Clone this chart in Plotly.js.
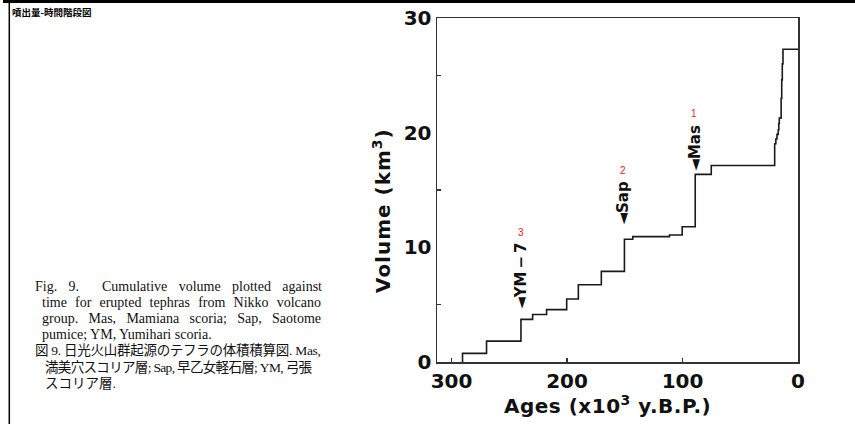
<!DOCTYPE html>
<html>
<head>
<meta charset="utf-8">
<script src="https://cdn.plot.ly/plotly-3.0.1.min.js"></script>
<style>
  html, body { margin: 0; padding: 0; background: #fff; }
  #chart { width: 855px; height: 424px; }
</style>
</head>
<body>
<div id="chart"></div>
<script>
// ---- data ----
const eruptionAge = [290.5, 269.7, 239.9, 229.8, 217.7, 200.3, 190.2, 170.3, 150.3, 143.1, 111.3, 100.3, 89.0, 75.1,
                     20.2, 19.2, 18.2, 17.1, 16.6, 16.2, 15.0, 14.6, 14.1, 13.6, 13.0];
const cumVolume   = [0.75, 1.82, 3.72, 4.14, 4.57, 5.5, 6.74, 7.9, 10.7, 10.93, 11.07, 11.8, 16.36, 17.14,
                     19.03, 19.45, 19.85, 20.25, 20.8, 21.27, 21.3, 23.0, 24.6, 26.0, 27.27];
const presentAge = 0;

const xTickVals = [300, 200, 100, 0];
const xTickText = ['300', '200', '100', '0'];
const yTickVals = [0, 10, 20, 30];
const yTickText = ['0', '10', '20', '30'];

const markerText = ['YM\u2009\u2212\u20097', 'Sap', 'Mas'];
const markerAge  = [240, 151.6, 90];
const markerNum  = ['3', '2', '1'];

const pageTitle = '噴出量-時間階段図';
const xTitle = 'Ages (x10<sup>3</sup> y.B.P.)';
const yTitle = 'Volume (km<sup>3</sup>)';
const captionLines = [
  'Fig. 9.\u00a0 Cumulative volume plotted against',
  'time for erupted tephras from Nikko volcano',
  'group. Mas, Mamiana scoria; Sap, Saotome',
  'pumice; YM, Yumihari scoria.',
  '図 9. 日光火山群起源のテフラの体積積算図. Mas,',
  '満美穴スコリア層; Sap, 早乙女軽石層; YM, 弓張',
  'スコリア層.'
];

// ---- layout helpers (pixel -> paper) ----
const W = 855, H = 424;
const M = {l: 437, r: 57, t: 18, b: 62};
const PW = W - M.l - M.r, PH = H - M.t - M.b;
const px = v => (v - M.l) / PW;
const py = v => (H - M.b - v) / PH;

const cnv = document.createElement('canvas').getContext('2d');
function measure(text, font) { cnv.font = font; return cnv.measureText(text).width; }

// step trace built from the eruption table
const xs = [eruptionAge[0]].concat(eruptionAge, [presentAge]);
const ys = [0].concat(cumVolume, [cumVolume[cumVolume.length - 1]]);

const trace = {
  x: xs, y: ys, type: 'scatter', mode: 'lines',
  line: {shape: 'hv', color: '#1a1a1a', width: 1.6},
  hoverinfo: 'skip', showlegend: false
};

const sansBold = {family: 'DejaVu Sans', size: 20, color: '#111', weight: 'bold'};

const annotations = [];
// marker labels (rotated, with down-pointing wedge)
const markerCenterVol = [7.5, 13.9, 18.7];
const numVol = [11.3, 16.7, 21.7];
for (let i = 0; i < markerText.length; i++) {
  annotations.push({
    xref: 'x', yref: 'y', x: markerAge[i], y: markerCenterVol[i],
    text: '\u25C4' + markerText[i], textangle: -90, showarrow: false,
    xanchor: 'center', yanchor: 'middle',
    font: {family: 'DejaVu Sans', size: 15, color: '#111', weight: 'bold'}
  });
  annotations.push({
    xref: 'x', yref: 'y', x: markerAge[i], y: numVol[i],
    text: markerNum[i], showarrow: false, xanchor: 'center', yanchor: 'middle',
    font: {family: 'Liberation Sans', size: 10, color: '#e52420'}
  });
}
// axis titles as annotations (placed like the reference)
annotations.push({
  xref: 'paper', yref: 'paper', x: px(607), y: py(405), xanchor: 'center', yanchor: 'middle',
  text: '<span style="letter-spacing:0.5px">' + xTitle + '</span>', showarrow: false, font: sansBold
});
annotations.push({
  xref: 'paper', yref: 'paper', x: px(382), y: py(211), xanchor: 'center', yanchor: 'middle',
  textangle: -90,
  text: '<span style="letter-spacing:1px">' + yTitle + '</span>', showarrow: false, font: sansBold
});
// page title
annotations.push({
  xref: 'paper', yref: 'paper', x: px(10), y: py(12), xanchor: 'left', yanchor: 'middle',
  text: pageTitle, showarrow: false,
  font: {family: 'Noto Sans CJK JP', size: 9.5, color: '#000', weight: 'bold'}
});
// caption (justified to the reference line widths)
const capX = [33, 40, 40, 40, 33, 43, 43];
const capY = [286, 302, 318.3, 334.6, 350.9, 367.2, 383.5];
const capW = [287, 279, 279, 0, 286, 267, 0];
const capSize = [14, 14, 14, 14, 13.5, 13.5, 13.5];
for (let i = 0; i < captionLines.length; i++) {
  const fam = "'Liberation Serif', 'Noto Sans CJK JP'";
  const natural = measure(captionLines[i], capSize[i] + 'px ' + fam);
  let txt = captionLines[i];
  if (capW[i] > 0) {
    const isCJK = i >= 4;
    if (isCJK) {
      const n = [...captionLines[i]].length - 1;
      const ls = (capW[i] - natural) / n;
      txt = '<span style="letter-spacing:' + ls.toFixed(2) + 'px">' + txt + '</span>';
    } else {
      const n = (captionLines[i].match(/[ \u00a0]/g) || []).length;
      const ws = (capW[i] - natural) / n;
      txt = '<span style="word-spacing:' + ws.toFixed(2) + 'px">' + txt + '</span>';
    }
  }
  annotations.push({
    xref: 'paper', yref: 'paper', x: px(capX[i]), y: py(capY[i]), xanchor: 'left', yanchor: 'middle',
    text: txt, showarrow: false,
    font: {family: 'Liberation Serif, Noto Sans CJK JP', size: capSize[i], color: '#111'}
  });
}

const shapes = [
  {type: 'line', xref: 'paper', yref: 'paper', x0: px(3), x1: px(855), y0: py(1.5), y1: py(1.5),
   line: {color: '#000', width: 3}},
  {type: 'line', xref: 'paper', yref: 'paper', x0: px(9.3), x1: px(9.3), y0: py(1.5), y1: py(424),
   line: {color: '#000', width: 1.5}}
];

const layout = {
  width: W, height: H,
  margin: M,
  paper_bgcolor: '#fff', plot_bgcolor: '#fff',
  showlegend: false,
  xaxis: {
    range: [312.6, 0], autorange: false,
    tickmode: 'array', tickvals: xTickVals, ticktext: xTickText,
    ticks: 'inside', ticklen: 4, tickwidth: 1.2, tickcolor: '#333',
    showline: true, mirror: true, linecolor: '#333', linewidth: 1.5,
    showgrid: false, zeroline: false,
    tickfont: sansBold
  },
  yaxis: {
    range: [0, 30], autorange: false,
    tickmode: 'array', tickvals: yTickVals, ticktext: yTickText,
    ticks: '',
    minor: {tickmode: 'array', tickvals: [5, 15, 25], ticks: 'inside', ticklen: 4, tickwidth: 1.2, tickcolor: '#333'},
    showline: true, mirror: true, linecolor: '#333', linewidth: 1.5,
    showgrid: false, zeroline: false,
    tickfont: sansBold
  },
  annotations: annotations,
  shapes: shapes
};

Plotly.newPlot('chart', [trace], layout, {displayModeBar: false, staticPlot: true});
</script>
</body>
</html>
